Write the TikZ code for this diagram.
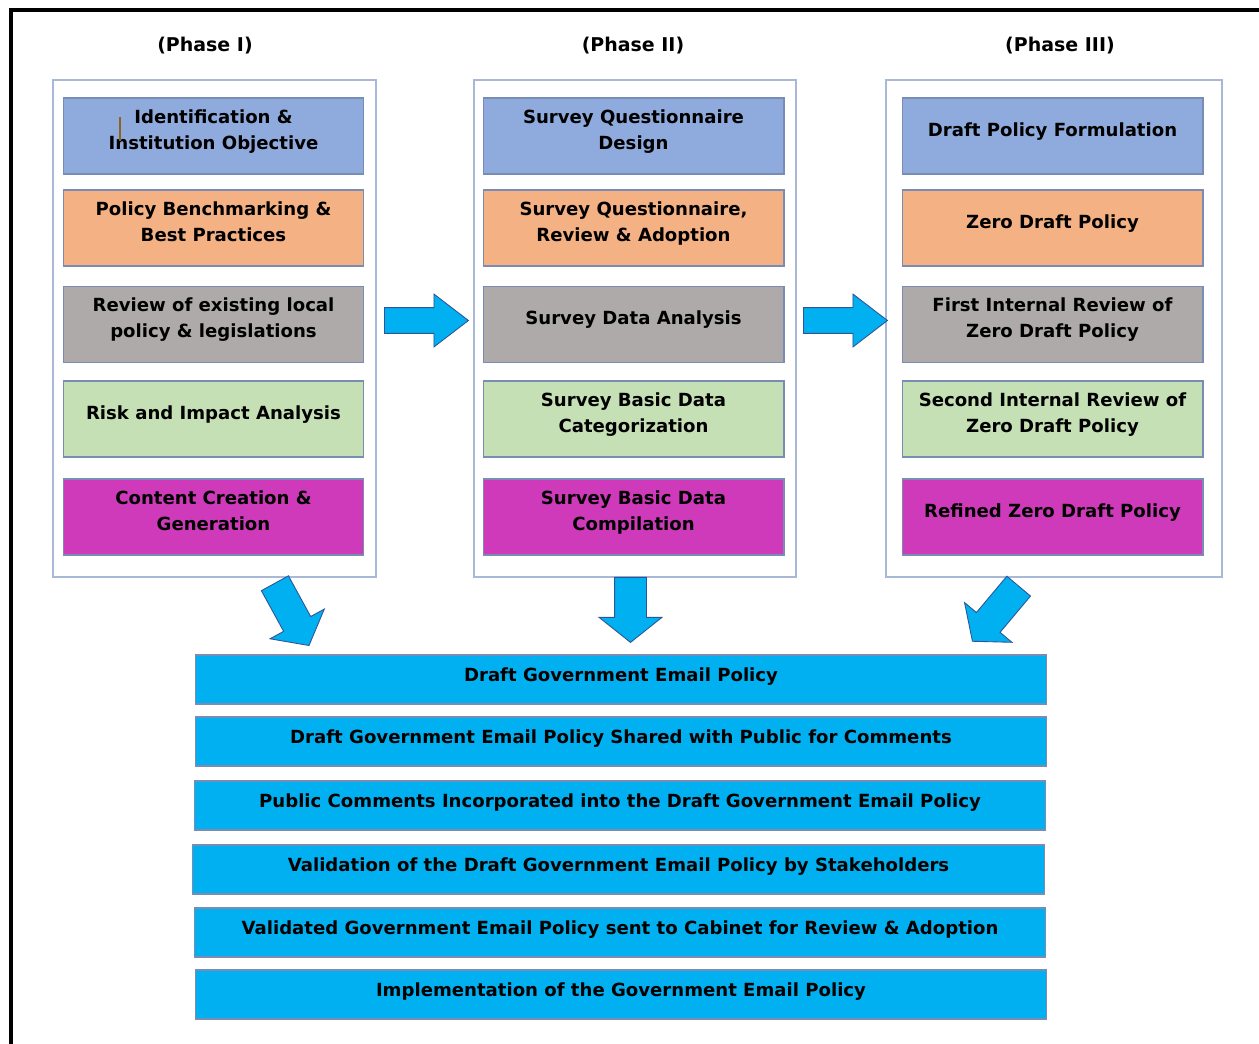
\documentclass[tikz,border=0pt]{standalone}
\usepackage{fontspec}
\setmainfont{DejaVu Sans}
\usepackage{tikz}
\usetikzlibrary{shapes,arrows,positioning,calc}

\definecolor{stageblue}{RGB}{143,170,220}
\definecolor{stageorange}{RGB}{244,177,131}
\definecolor{stagegray}{RGB}{174,170,170}
\definecolor{stagegreen}{RGB}{197,224,180}
\definecolor{stagemagenta}{RGB}{206,58,186}
\definecolor{barcyan}{RGB}{0,176,240}
\definecolor{edgeblue}{RGB}{120,140,180}
\definecolor{frameblue}{RGB}{168,184,214}
\definecolor{arrowedge}{RGB}{47,85,151}
\definecolor{cursorbrown}{RGB}{140,100,30}

\begin{document}
\begin{tikzpicture}[x=0.02cm, y=-0.02cm,
    every node/.style={font=\fontsize{10.3}{15}\selectfont\bfseries, text=black},
    title/.style={font=\fontsize{10.8}{13}\selectfont\bfseries},
    phase/.style={draw=frameblue, line width=0.8pt, fill=white, minimum height=9.94cm},
    stage/.style={draw=edgeblue, line width=0.6pt, minimum width=6.02cm, minimum height=1.52cm, align=center, text depth=7.6pt},
    bar/.style={draw=edgeblue, fill=barcyan, line width=0.6pt, minimum width=17.04cm, minimum height=0.98cm, text depth=5.4pt},
    rightarrow/.style={single arrow, draw=arrowedge, fill=barcyan, line width=0.5pt, inner xsep=0pt, inner ysep=0.25cm, minimum height=1.68cm, single arrow head extend=0.27cm, single arrow tip angle=75},
    downarrow/.style={single arrow, draw=arrowedge, fill=barcyan, line width=0.5pt, inner xsep=0pt, inner ysep=0.31cm, minimum height=1.3cm, single arrow head extend=0.31cm, single arrow tip angle=103}]
    \useasboundingbox (0,0) rectangle (1259,1044);
    \draw[line width=2.3pt] (11,1060) -- (11,10) -- (1275,10);

    % Phase frames
    \node[phase, minimum width=6.46cm] (ph1) at (214.5,328.5) {};
    \node[phase, minimum width=6.44cm] (ph2) at (635,328.5) {};
    \node[phase, minimum width=6.72cm] (ph3) at (1054,328.5) {};

    % Phase I
    \node[title] (t1) at (205,46) {(Phase I)};
    \node[stage, fill=stageblue] (p1a) at (213.5,136) {Identification \&\\Institution Objective};
    \node[stage, fill=stageorange] (p1b) at (213.5,228) {Policy Benchmarking \&\\Best Practices};
    \node[stage, fill=stagegray] (p1c) at (213.5,324.5) {Review of existing local\\policy \& legislations};
    \node[stage, fill=stagegreen] (p1d) at (213.5,419) {Risk and Impact Analysis};
    \node[stage, fill=stagemagenta] (p1e) at (213.5,517) {Content Creation \&\\Generation};
    \draw[cursorbrown, line width=0.6pt] (120,117) -- (120,141);

    % Phase II
    \node[title] (t2) at (633,46) {(Phase II)};
    \node[stage, fill=stageblue] (p2a) at (633.5,136) {Survey Questionnaire\\Design};
    \node[stage, fill=stageorange] (p2b) at (633.5,228) {Survey Questionnaire,\\Review \& Adoption};
    \node[stage, fill=stagegray] (p2c) at (633.5,324.5) {Survey Data Analysis};
    \node[stage, fill=stagegreen] (p2d) at (633.5,419) {Survey Basic Data\\Categorization};
    \node[stage, fill=stagemagenta] (p2e) at (633.5,517) {Survey Basic Data\\Compilation};

    % Phase III
    \node[title] (t3) at (1060,46) {(Phase III)};
    \node[stage, fill=stageblue] (p3a) at (1052.5,136) {Draft Policy Formulation};
    \node[stage, fill=stageorange] (p3b) at (1052.5,228) {Zero Draft Policy};
    \node[stage, fill=stagegray] (p3c) at (1052.5,324.5) {First Internal Review of\\Zero Draft Policy};
    \node[stage, fill=stagegreen] (p3d) at (1052.5,419) {Second Internal Review of\\Zero Draft Policy};
    \node[stage, fill=stagemagenta] (p3e) at (1052.5,517) {Refined Zero Draft Policy};

    % Final steps
    \node[bar] (b1) at (621,679.5) {Draft Government Email Policy};
    \node[bar] (b2) at (621,741.5) {Draft Government Email Policy Shared with Public for Comments};
    \node[bar] (b3) at (620,805.5) {Public Comments Incorporated into the Draft Government Email Policy};
    \node[bar] (b4) at (618.5,869.5) {Validation of the Draft Government Email Policy by Stakeholders};
    \node[bar] (b5) at (620,932.5) {Validated Government Email Policy sent to Cabinet for Review \& Adoption};
    \node[bar] (b6) at (621,994.5) {Implementation of the Government Email Policy};

    % Block arrows
    \node[rightarrow] (r12) at ($(ph1.east)!0.5!(ph2.west)+(-7,-8)$) {};
    \node[rightarrow] (r23) at ($(ph2.east)!0.5!(ph3.west)+(-4,-8)$) {};
    \node[downarrow, rotate=-61.3, minimum height=1.42cm, inner ysep=0.3cm] (d1) at (289,609) {};
    \node[downarrow, rotate=-90] (d2) at ($(ph2.south)!0.5!(b1.north)+(2.5,-12.5)$) {};
    \node[downarrow, rotate=-130, minimum height=1.44cm, inner ysep=0.3cm] (d3) at (999.5,609) {};
\end{tikzpicture}
\end{document}
